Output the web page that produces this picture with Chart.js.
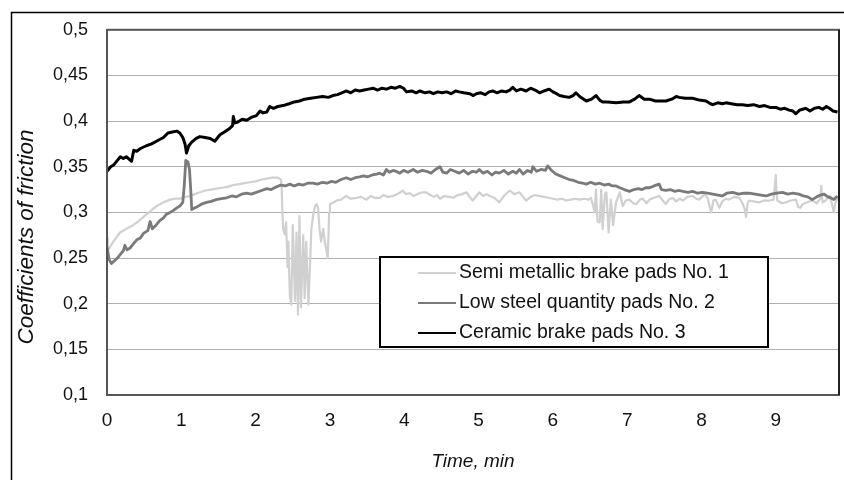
<!DOCTYPE html>
<html>
<head>
<meta charset="utf-8">
<script src="https://cdn.jsdelivr.net/npm/chart.js@4"></script>
<style>
  html, body { margin: 0; padding: 0; background: #fff; overflow: hidden; }
  canvas { display: block; }
</style>
</head>
<body>
<canvas id="frictionChart" width="844" height="480"></canvas>
<script>
// [time (min), coefficient of friction]
const semiMetallicPads = [
  [0,0.272],[0.01,0.258],[0.04,0.262],[0.085,0.268],[0.13,0.273],[0.175,0.278],[0.22,0.28],[0.28,0.283],
  [0.35,0.286],[0.42,0.29],[0.49,0.295],[0.55,0.299],[0.62,0.304],[0.69,0.308],[0.76,0.311],[0.85,0.314],
  [0.92,0.315],[0.98,0.315],[1.05,0.317],[1.12,0.318],[1.18,0.32],[1.25,0.322],[1.32,0.324],[1.4,0.325],
  [1.47,0.326],[1.55,0.327],[1.62,0.328],[1.7,0.33],[1.78,0.331],[1.85,0.332],[1.92,0.333],[2.0,0.334],
  [2.08,0.336],[2.15,0.337],[2.22,0.338],[2.3,0.338],[2.34,0.336],[2.35,0.33],[2.36,0.3],[2.37,0.282],
  [2.39,0.276],[2.41,0.289],[2.43,0.24],[2.44,0.268],[2.46,0.21],[2.48,0.199],[2.5,0.286],[2.53,0.203],
  [2.55,0.278],[2.57,0.188],[2.59,0.296],[2.61,0.196],[2.64,0.275],[2.66,0.206],[2.68,0.268],[2.71,0.199],
  [2.73,0.239],[2.75,0.282],[2.78,0.3],[2.8,0.307],[2.82,0.309],[2.84,0.305],[2.86,0.282],[2.88,0.268],
  [2.91,0.282],[2.93,0.268],[2.95,0.26],[2.97,0.25],[2.99,0.3],[3.0,0.309],[3.05,0.311],[3.09,0.313],
  [3.15,0.314],[3.22,0.318],[3.28,0.315],[3.36,0.316],[3.42,0.317],[3.49,0.314],[3.55,0.318],[3.6,0.316],
  [3.67,0.316],[3.72,0.319],[3.78,0.317],[3.85,0.318],[3.9,0.32],[3.95,0.322],[3.98,0.324],[4.02,0.32],
  [4.07,0.321],[4.12,0.318],[4.18,0.32],[4.24,0.322],[4.3,0.322],[4.35,0.319],[4.4,0.317],[4.44,0.319],
  [4.48,0.315],[4.54,0.318],[4.6,0.317],[4.66,0.316],[4.72,0.319],[4.78,0.32],[4.84,0.322],[4.88,0.317],
  [4.92,0.313],[4.97,0.318],[5.01,0.322],[5.06,0.318],[5.11,0.32],[5.15,0.318],[5.21,0.316],[5.28,0.311],
  [5.34,0.318],[5.38,0.321],[5.42,0.324],[5.48,0.32],[5.55,0.322],[5.6,0.317],[5.64,0.313],[5.7,0.317],
  [5.76,0.319],[5.82,0.318],[5.88,0.317],[5.94,0.316],[6.0,0.315],[6.06,0.314],[6.12,0.315],[6.18,0.313],
  [6.24,0.314],[6.3,0.315],[6.36,0.314],[6.42,0.315],[6.48,0.314],[6.51,0.316],[6.54,0.308],[6.56,0.3],
  [6.58,0.325],[6.6,0.29],[6.63,0.289],[6.65,0.325],[6.67,0.282],[6.7,0.32],[6.72,0.322],[6.75,0.278],
  [6.78,0.314],[6.81,0.286],[6.85,0.311],[6.9,0.322],[6.94,0.307],[6.98,0.313],[7.03,0.314],[7.08,0.31],
  [7.12,0.309],[7.17,0.314],[7.21,0.315],[7.26,0.31],[7.3,0.314],[7.36,0.316],[7.43,0.318],[7.48,0.313],
  [7.52,0.309],[7.56,0.314],[7.61,0.316],[7.66,0.312],[7.71,0.315],[7.75,0.313],[7.81,0.317],[7.88,0.318],
  [7.93,0.315],[7.97,0.314],[8.04,0.32],[8.08,0.316],[8.13,0.3],[8.16,0.313],[8.19,0.314],[8.24,0.305],
  [8.28,0.312],[8.33,0.315],[8.37,0.314],[8.44,0.317],[8.51,0.316],[8.55,0.31],[8.58,0.304],[8.6,0.295],
  [8.62,0.31],[8.64,0.313],[8.7,0.312],[8.78,0.311],[8.84,0.313],[8.91,0.313],[8.97,0.314],[9.0,0.341],
  [9.01,0.32],[9.02,0.313],[9.08,0.31],[9.14,0.311],[9.2,0.313],[9.27,0.314],[9.3,0.306],[9.33,0.305],
  [9.36,0.309],[9.42,0.311],[9.49,0.313],[9.55,0.31],[9.6,0.315],[9.61,0.329],[9.63,0.311],[9.67,0.313],
  [9.72,0.318],[9.75,0.311],[9.78,0.3],[9.8,0.31],[9.83,0.316]
];

const lowSteelPads = [
  [0,0.262],[0.03,0.248],[0.06,0.244],[0.1,0.247],[0.14,0.25],[0.18,0.254],[0.22,0.258],[0.24,0.264],
  [0.27,0.259],[0.31,0.261],[0.36,0.266],[0.4,0.27],[0.45,0.272],[0.49,0.277],[0.55,0.28],[0.58,0.29],
  [0.61,0.282],[0.66,0.286],[0.71,0.291],[0.76,0.294],[0.8,0.298],[0.85,0.3],[0.89,0.302],[0.94,0.305],
  [0.98,0.307],[1.02,0.311],[1.04,0.33],[1.06,0.357],[1.09,0.355],[1.11,0.347],[1.13,0.32],[1.14,0.303],
  [1.18,0.305],[1.21,0.306],[1.27,0.309],[1.34,0.311],[1.4,0.312],[1.47,0.314],[1.54,0.315],[1.61,0.316],
  [1.68,0.318],[1.74,0.317],[1.81,0.32],[1.88,0.321],[1.94,0.32],[2.01,0.322],[2.08,0.324],[2.15,0.326],
  [2.21,0.325],[2.28,0.328],[2.34,0.33],[2.4,0.329],[2.46,0.331],[2.52,0.329],[2.58,0.331],[2.64,0.33],
  [2.7,0.332],[2.77,0.332],[2.83,0.331],[2.9,0.333],[2.96,0.332],[3.02,0.334],[3.08,0.333],[3.15,0.336],
  [3.22,0.338],[3.28,0.336],[3.34,0.338],[3.4,0.339],[3.45,0.34],[3.51,0.339],[3.57,0.341],[3.63,0.342],
  [3.67,0.343],[3.72,0.341],[3.76,0.347],[3.8,0.344],[3.85,0.346],[3.89,0.345],[3.94,0.343],[3.99,0.346],
  [4.05,0.344],[4.12,0.347],[4.18,0.344],[4.24,0.346],[4.3,0.345],[4.36,0.343],[4.42,0.347],[4.48,0.35],
  [4.52,0.344],[4.57,0.343],[4.62,0.347],[4.68,0.345],[4.74,0.343],[4.8,0.346],[4.86,0.342],[4.92,0.345],
  [4.97,0.344],[5.01,0.347],[5.06,0.343],[5.12,0.345],[5.18,0.341],[5.23,0.344],[5.28,0.343],[5.34,0.346],
  [5.4,0.342],[5.46,0.345],[5.51,0.343],[5.55,0.347],[5.6,0.342],[5.66,0.346],[5.71,0.344],[5.73,0.35],
  [5.78,0.345],[5.84,0.347],[5.9,0.346],[5.93,0.351],[5.97,0.347],[6.01,0.344],[6.04,0.342],[6.1,0.34],
  [6.16,0.338],[6.22,0.336],[6.28,0.335],[6.34,0.333],[6.4,0.332],[6.45,0.331],[6.51,0.333],[6.57,0.331],
  [6.63,0.332],[6.69,0.33],[6.75,0.331],[6.8,0.329],[6.85,0.329],[6.9,0.327],[6.96,0.325],[7.03,0.323],
  [7.09,0.325],[7.15,0.326],[7.2,0.325],[7.25,0.327],[7.3,0.327],[7.36,0.329],[7.43,0.331],[7.46,0.325],
  [7.52,0.324],[7.58,0.325],[7.64,0.323],[7.7,0.324],[7.75,0.323],[7.82,0.322],[7.88,0.323],[7.95,0.321],
  [8.01,0.322],[8.08,0.321],[8.15,0.32],[8.22,0.319],[8.28,0.318],[8.34,0.321],[8.42,0.322],[8.5,0.32],
  [8.57,0.321],[8.64,0.321],[8.72,0.32],[8.8,0.319],[8.87,0.318],[8.94,0.32],[9.01,0.321],[9.09,0.322],
  [9.16,0.32],[9.23,0.321],[9.31,0.32],[9.37,0.318],[9.43,0.317],[9.49,0.314],[9.55,0.317],[9.6,0.319],
  [9.65,0.32],[9.7,0.317],[9.74,0.316],[9.78,0.314],[9.83,0.318]
];

const ceramicPads = [
  [0,0.345],[0.05,0.35],[0.09,0.352],[0.14,0.357],[0.18,0.361],[0.22,0.359],[0.26,0.361],[0.3,0.358],
  [0.33,0.356],[0.36,0.368],[0.4,0.367],[0.45,0.37],[0.53,0.373],[0.6,0.375],[0.69,0.379],[0.76,0.382],
  [0.82,0.387],[0.88,0.388],[0.94,0.389],[0.98,0.387],[1.02,0.382],[1.05,0.375],[1.07,0.365],[1.1,0.373],
  [1.14,0.377],[1.2,0.381],[1.25,0.383],[1.32,0.382],[1.39,0.381],[1.45,0.378],[1.52,0.385],[1.58,0.388],
  [1.65,0.392],[1.69,0.395],[1.7,0.405],[1.72,0.398],[1.76,0.399],[1.82,0.402],[1.88,0.401],[1.94,0.404],
  [2.01,0.406],[2.06,0.411],[2.1,0.409],[2.15,0.41],[2.19,0.416],[2.24,0.414],[2.3,0.416],[2.37,0.417],
  [2.45,0.419],[2.52,0.421],[2.59,0.422],[2.66,0.424],[2.74,0.425],[2.82,0.426],[2.9,0.427],[2.98,0.426],
  [3.04,0.428],[3.1,0.429],[3.16,0.431],[3.22,0.433],[3.28,0.431],[3.34,0.434],[3.4,0.433],[3.46,0.434],
  [3.52,0.435],[3.58,0.436],[3.64,0.434],[3.7,0.436],[3.76,0.435],[3.82,0.437],[3.88,0.436],[3.94,0.438],
  [3.99,0.436],[4.03,0.432],[4.1,0.433],[4.16,0.431],[4.21,0.433],[4.28,0.431],[4.34,0.432],[4.39,0.43],
  [4.45,0.432],[4.51,0.431],[4.57,0.432],[4.63,0.43],[4.69,0.433],[4.74,0.432],[4.8,0.431],[4.88,0.43],
  [4.93,0.428],[4.97,0.43],[5.03,0.431],[5.09,0.429],[5.14,0.432],[5.19,0.433],[5.25,0.431],[5.31,0.433],
  [5.37,0.432],[5.42,0.434],[5.46,0.437],[5.51,0.433],[5.57,0.435],[5.64,0.433],[5.7,0.436],[5.76,0.434],
  [5.82,0.431],[5.88,0.433],[5.95,0.435],[6.0,0.432],[6.05,0.43],[6.09,0.428],[6.15,0.427],[6.22,0.426],
  [6.27,0.428],[6.31,0.431],[6.36,0.427],[6.45,0.422],[6.52,0.424],[6.58,0.428],[6.63,0.423],[6.67,0.421],
  [6.74,0.421],[6.85,0.42],[6.95,0.421],[7.03,0.421],[7.1,0.424],[7.16,0.428],[7.23,0.424],[7.3,0.424],
  [7.38,0.422],[7.45,0.422],[7.52,0.422],[7.6,0.424],[7.66,0.427],[7.7,0.426],[7.78,0.425],[7.88,0.425],
  [7.97,0.423],[8.06,0.422],[8.12,0.419],[8.15,0.418],[8.22,0.42],[8.28,0.419],[8.33,0.42],[8.4,0.419],
  [8.48,0.418],[8.55,0.418],[8.62,0.417],[8.7,0.418],[8.78,0.416],[8.85,0.417],[8.92,0.415],[9.0,0.415],
  [9.06,0.413],[9.12,0.414],[9.18,0.412],[9.23,0.411],[9.27,0.408],[9.32,0.412],[9.36,0.413],[9.4,0.414],
  [9.46,0.411],[9.52,0.414],[9.58,0.415],[9.63,0.413],[9.68,0.416],[9.72,0.414],[9.77,0.411],[9.83,0.41]
];

const seriesNames = ['Semi metallic brake pads No. 1', 'Low steel quantity pads No. 2', 'Ceramic brake pads No. 3'];
const xTickLabels = ['0', '1', '2', '3', '4', '5', '6', '7', '8', '9'];
const yTickLabels = ['0,1', '0,15', '0,2', '0,25', '0,3', '0,35', '0,4', '0,45', '0,5'];
const yAxisTitle = 'Coefficients of friction';

const FONT = '"Liberation Sans", Arial, sans-serif';

function toPoints(rows) {
  return rows.map(r => ({ x: r[0], y: r[1] }));
}

// outer frame, y title, plot border and the boxed legend inside the plot
const framePlugin = {
  id: 'frame',
  beforeDraw(chart) {
    const ctx = chart.ctx;
    ctx.save();
    ctx.fillStyle = '#fff';
    ctx.fillRect(0, 0, chart.width, chart.height);
    ctx.strokeStyle = '#000';
    ctx.lineWidth = 1.5;
    ctx.strokeRect(11.5, 12.5, 900, 520);

    // y axis title, sits a bit below the plot centre like the original
    ctx.translate(27, 237);
    ctx.rotate(-Math.PI / 2);
    ctx.font = 'italic 22.5px ' + FONT;
    ctx.fillStyle = '#111';
    ctx.textAlign = 'center';
    ctx.textBaseline = 'middle';
    ctx.fillText(yAxisTitle, 0, 0);
    ctx.restore();
  },
  afterDatasetsDraw(chart) {
    const ctx = chart.ctx;
    const a = chart.chartArea;
    ctx.save();
    ctx.strokeStyle = '#555';
    ctx.lineWidth = 2;
    ctx.strokeRect(a.left, a.top, a.right - a.left, a.bottom - a.top);
    ctx.strokeStyle = '#222';
    ctx.beginPath();
    ctx.moveTo(a.right, a.top);
    ctx.lineTo(a.right, a.bottom);
    ctx.stroke();

    const box = { left: 380, top: 257, width: 388, height: 90 };
    ctx.fillStyle = '#fff';
    ctx.fillRect(box.left, box.top, box.width, box.height);
    ctx.strokeStyle = '#000';
    ctx.lineWidth = 2;
    ctx.strokeRect(box.left, box.top, box.width, box.height);

    ctx.font = '19.5px ' + FONT;
    ctx.textBaseline = 'middle';
    ctx.textAlign = 'left';
    chart.data.datasets.forEach((ds, i) => {
      const y = box.top + 16 + i * 30;
      ctx.strokeStyle = ds.borderColor;
      ctx.lineWidth = 2;
      ctx.beginPath();
      ctx.moveTo(box.left + 38, y);
      ctx.lineTo(box.left + 76, y);
      ctx.stroke();
      ctx.fillStyle = '#111';
      ctx.fillText(ds.label, box.left + 79, y);
    });
    ctx.restore();
  }
};

new Chart(document.getElementById('frictionChart').getContext('2d'), {
  type: 'line',
  data: {
    datasets: [
      {
        label: seriesNames[0],
        data: toPoints(semiMetallicPads),
        borderColor: '#d0d0d0',
        borderWidth: 2.2,
        order: 3
      },
      {
        label: seriesNames[1],
        data: toPoints(lowSteelPads),
        borderColor: '#7a7a7a',
        borderWidth: 2.8,
        order: 2
      },
      {
        label: seriesNames[2],
        data: toPoints(ceramicPads),
        borderColor: '#000000',
        borderWidth: 3,
        order: 1
      }
    ]
  },
  options: {
    responsive: false,
    animation: false,
    layout: { padding: { left: 10, top: 25, right: 5, bottom: 3 } },
    elements: {
      point: { radius: 0 },
      line: { tension: 0, borderJoinStyle: 'round' }
    },
    plugins: {
      legend: { display: false },
      tooltip: { enabled: false }
    },
    scales: {
      x: {
        type: 'linear',
        min: 0,
        max: 9.85,
        afterFit: s => { s.height = 82; },
        grid: { display: false, drawTicks: false },
        border: { display: false },
        ticks: {
          stepSize: 1,
          includeBounds: false,
          maxRotation: 0,
          padding: 14,
          color: '#111',
          font: { family: FONT, size: 19 },
          callback: (v, i) => xTickLabels[i]
        },
        title: {
          display: true,
          text: 'Time, min',
          color: '#111',
          padding: { top: 4, bottom: 4 },
          font: { family: FONT, size: 19, style: 'italic' }
        }
      },
      y: {
        min: 0.1,
        max: 0.5,
        afterFit: s => { s.width = 97; },
        grid: { color: '#b0b0b0', lineWidth: 1, drawTicks: false },
        border: { display: false },
        ticks: {
          stepSize: 0.05,
          padding: 19,
          color: '#111',
          font: { family: FONT, size: 18 },
          callback: (v, i) => yTickLabels[i]
        }
      }
    }
  },
  plugins: [framePlugin]
});
</script>
</body>
</html>
